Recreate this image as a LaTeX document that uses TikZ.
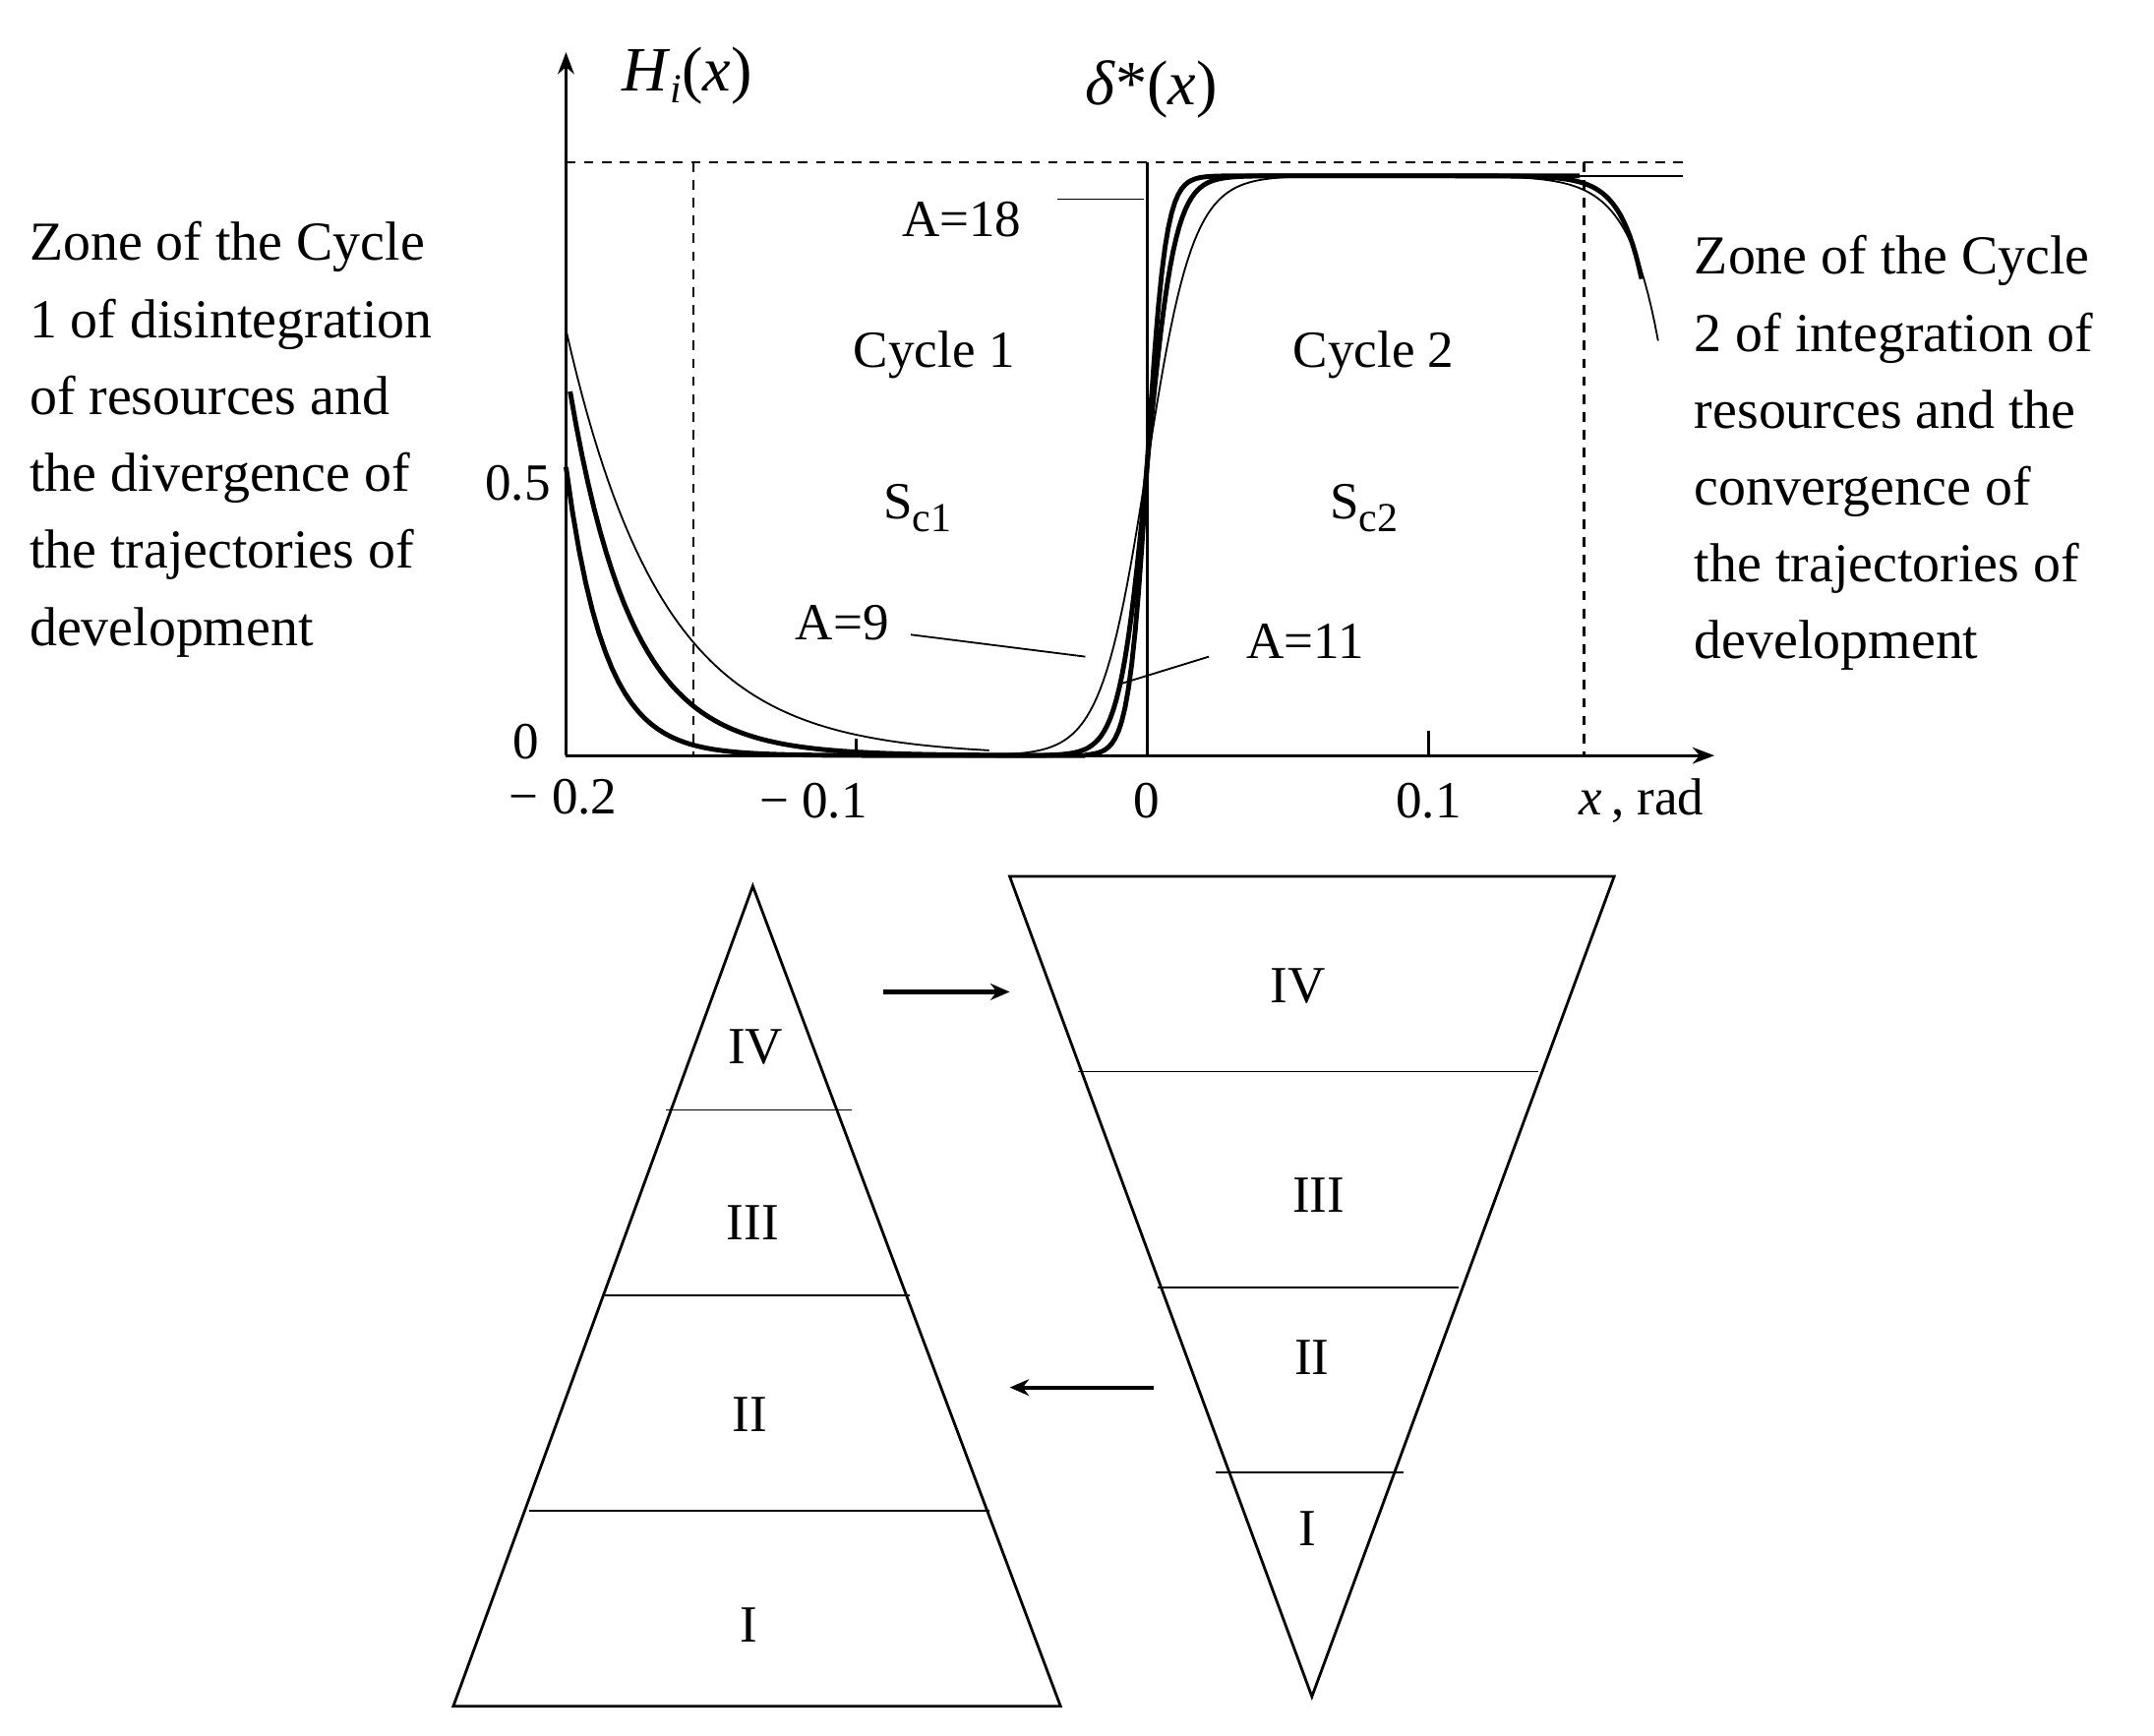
\documentclass[tikz,border=0pt]{standalone}
\usepackage{fontspec}
\setmainfont{Liberation Serif}
\usetikzlibrary{arrows.meta}
\newcommand{\subtx}[1]{\raisebox{-9pt}{\fontsize{30}{32}\selectfont #1}}
\begin{document}
\begin{tikzpicture}[x=1pt,y=-1pt,
  txt/.style={font=\fontsize{40}{56}\selectfont},
  lbl/.style={font=\fontsize{38}{46}\selectfont},
  thin/.style={line width=1.3},
  thk/.style={line width=3.5},
  dsh/.style={line width=1.6,dash pattern=on 7 off 6},
  ax/.style={line width=2,-{Stealth[length=16,width=12]}},
  arr/.style={line width=3,-{Stealth[length=14,width=12]}}]
\useasboundingbox (0,0) rectangle (1568,1263);
% axes
\coordinate (o) at (412,550);
\coordinate (yt) at (412,38);
\coordinate (xt) at (1248,550);
\draw[ax] (o) -- (yt);
\draw[ax] (o) -- (xt);
\draw[line width=2] (623,550)--(623,538) (1040,550)--(1040,532);
\draw[dsh] (412,118) -- (1230,118);
\draw[dsh] (505,118) -- (505,550);
\draw[dsh] (1153,118) -- (1153,550);
\draw[thin,line width=1.8] (835,118) -- (835,550);
\draw[thin] (1000,128) -- (1225,128);
% curves
\draw[thin] plot[domain=412:720,samples=80] (\x,{550-310*exp(-(\x-412)/70)});
\draw[thin] plot[domain=720:1207,samples=200] (\x,{550-422/(1+exp(-0.06*(\x-835)))+120*exp((\x-1207)/22)});
\draw[thk] plot[domain=415:760,samples=80] (\x,{550-265*exp(-(\x-415)/45)});
\draw[thk] plot[domain=760:1195,samples=200] (\x,{550-422/(1+exp(-0.1*(\x-835)))+75*exp((\x-1195)/16)});
\draw[thk] plot[domain=412:790,samples=80] (\x,{550-210*exp(-(\x-412)/28)});
\draw[thk] plot[domain=790:1150,samples=150] (\x,{550-422/(1+exp(-0.15*(\x-835)))});
\draw[thin] (1150,128) -- (1225,128);
% tick labels
\node[lbl] (t0) at (383,540) {0};
\node[lbl] (t05) at (377,352) {0.5};
\node[lbl] (tm2) at (410,580) {− 0.2};
\node[lbl] (tm1) at (592,583) {− 0.1};
\node[lbl] (tz) at (835,583) {0};
\node[lbl] (tp1) at (1040,583) {0.1};
\node[lbl] (xl) at (1195,583) {\textit{x}\,, rad};
\node[lbl,font=\fontsize{46}{50}\selectfont] (hl) at (500,55) {\textit{H}\subtx{\textit{i}}(\textit{x})};
\node[lbl,font=\fontsize{46}{50}\selectfont] (dl) at (838,65) {\textit{δ}*(\textit{x})};
% labels with leaders
\node[lbl] (a18) at (700,160) {A=18};
\coordinate (a18e) at (833,145);
\draw[thin] (770,145) -- (a18e);
\node[lbl] (a9) at (613,453) {A=9};
\coordinate (a9e) at (790,478);
\draw[thin] (663,462) -- (a9e);
\node[lbl] (a11) at (950,467) {A=11};
\coordinate (a11e) at (815,498);
\draw[thin] (880,478) -- (a11e);
\node[lbl] (c1) at (680,258) {Cycle 1};
\node[lbl] (s1) at (668,370) {S\subtx{c1}};
\node[lbl] (c2) at (1000,258) {Cycle 2};
\node[lbl] (s2) at (993,370) {S\subtx{c2}};
% side texts
\node[txt,anchor=north west,align=left] (lt) at (18,158) {Zone of the Cycle\\1 of disintegration\\of resources and\\the divergence of\\the trajectories of\\development};
\node[txt,anchor=north west,align=left] (rt) at (1230,168) {Zone of the Cycle\\2 of integration of\\resources and the\\convergence of\\the trajectories of\\development};
% left triangle
\draw[line width=2] (548,645) -- (772,1242) -- (330,1242) -- cycle;
\draw[thin] (485,808) -- (620,808);
\draw[thin] (440,943) -- (662,943);
\draw[thin] (385,1100) -- (720,1100);
\node[lbl] (l4) at (550,762) {IV};
\node[lbl] (l3) at (548,890) {III};
\node[lbl] (l2) at (546,1030) {II};
\node[lbl] (l1) at (545,1183) {I};
% right triangle
\draw[line width=2] (735,638) -- (1175,638) -- (955,1235) -- cycle;
\draw[thin] (785,780) -- (1120,780);
\draw[thin] (843,937) -- (1062,937);
\draw[thin] (885,1072) -- (1022,1072);
\node[lbl] (r4) at (945,718) {IV};
\node[lbl] (r3) at (960,870) {III};
\node[lbl] (r2) at (955,988) {II};
\node[lbl] (r1) at (952,1113) {I};
% arrows
\coordinate (p1) at (643,722); \coordinate (p2) at (735,722);
\coordinate (q1) at (840,1010); \coordinate (q2) at (735,1010);
\draw[arr] (p1) -- (p2);
\draw[arr] (q1) -- (q2);
\end{tikzpicture}
\end{document}
